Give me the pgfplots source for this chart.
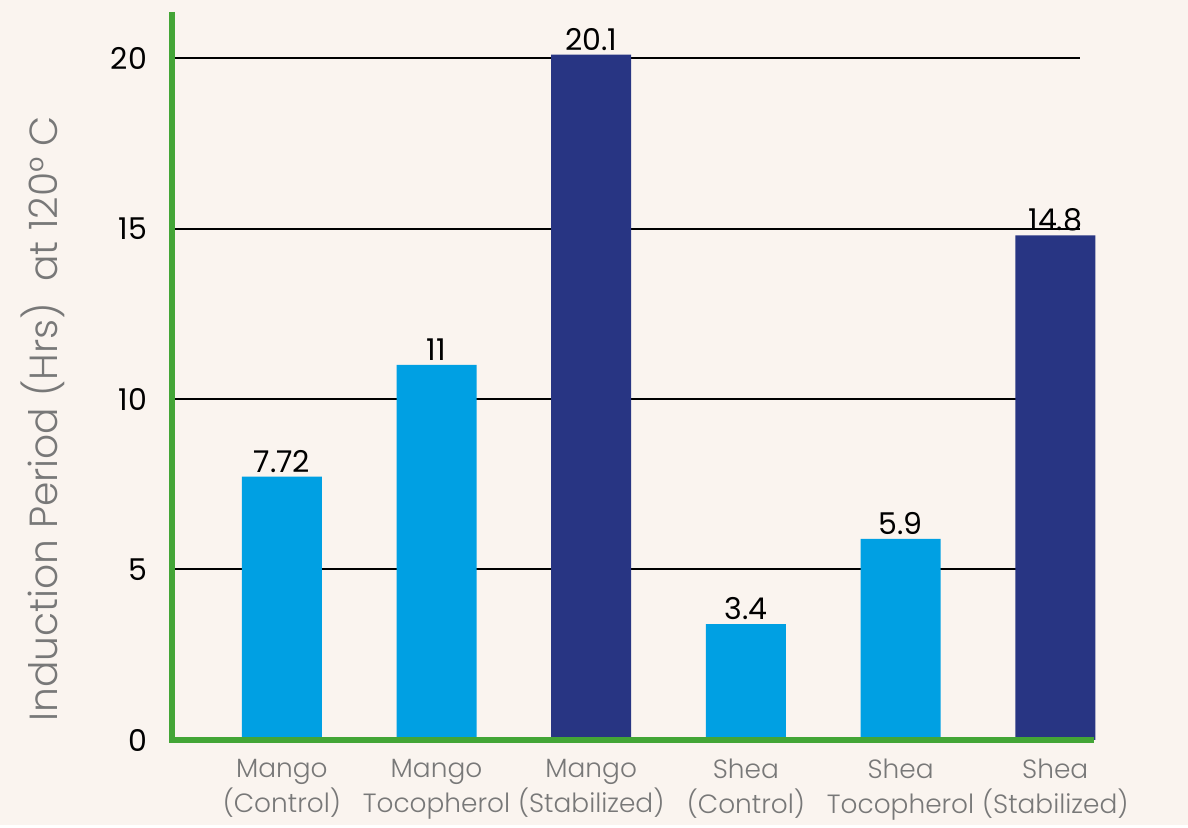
\documentclass[border=0pt]{standalone}
\usepackage{pgfplots}
\pgfplotsset{compat=1.18}
\usepackage{fontspec}
\setmainfont{Poppins}
\newfontfamily\lightfont{Poppins}[UprightFont={* Light}]
\usetikzlibrary{backgrounds}
\definecolor{bgcream}{RGB}{250,244,239}
\definecolor{lightbar}{RGB}{0,160,227}
\definecolor{navybar}{RGB}{40,53,131}
\definecolor{axisgreen}{RGB}{67,165,54}
\definecolor{labelgray}{RGB}{120,120,120}

\begin{document}
\begin{tikzpicture}
\begin{axis}[
    scale only axis,
    width=454pt, height=364pt,
    xmin=-0.71, xmax=5.16,
    ymin=0, ymax=21.35,
    clip=false,
    axis line style={draw=none},
    major tick length=0pt,
    xtick={0,1,2,3,4,5},
    xticklabels={{Mango\\(Control)},{Mango\\Tocopherol},{Mango\\(Stabilized)},{Shea\\(Control)},{Shea\\Tocopherol},{Shea\\(Stabilized)}},
    xticklabel style={align=center, font=\lightfont\fontsize{13.2}{17.5}\selectfont, text=labelgray, yshift=-6pt},
    ytick={0,5,10,15,20},
    yticklabel style={font=\fontsize{15}{18}\selectfont, xshift=-9pt},
    /pgf/number format/assume math mode=true,
    ymajorgrids,
    grid style={black, line width=1pt},
    ylabel={Induction Period (Hrs)\ \ at 120° C},
    ylabel style={at={(rel axis cs:-0.142,0.441)}, anchor=center, rotate=0, font=\lightfont\fontsize{19.6}{22}\selectfont, text=labelgray},
    ybar, bar width=40pt, bar shift=0pt,
    nodes near coords,
    nodes near coords style={font=\fontsize{15}{17}\selectfont, black, inner sep=2pt},
]
\addplot[fill=lightbar, draw=none] coordinates {(0,7.72) (1,11) (3,3.4) (4,5.9)};
\addplot[fill=navybar, draw=none] coordinates {(2,20.1) (5,14.8)};
\draw[axisgreen, line width=3pt] (axis cs:-0.71,21.35) -- (axis cs:-0.71,0) -- (axis cs:5.25,0);
\end{axis}
\begin{scope}[on background layer]
\fill[bgcream] (-86pt,-42.5pt) rectangle (508pt,370pt);
\end{scope}
\end{tikzpicture}
\end{document}
